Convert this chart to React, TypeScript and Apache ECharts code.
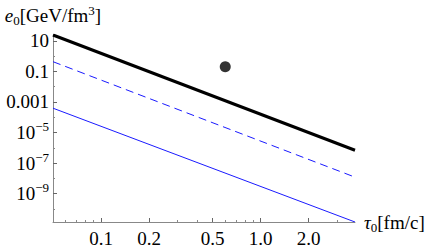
import React, { useEffect, useRef } from "react";
import * as echarts from "echarts";

// ---- data ----
const tauRange = [0.05, 3.9]; // fm/c, plot range
const eRange = [1.4e-11, 24]; // GeV/fm^3, plot range

const tauMajorTicks = [0.1, 0.2, 0.5, 1.0, 2.0];
const tauMajorLabels = ["0.1", "0.2", "0.5", "1.0", "2.0"];
const tauMinorTicks = [0.06, 0.07, 0.08, 0.09, 0.3, 0.4, 0.6, 0.7, 0.8, 0.9, 3.0];

const eMajorTicks = [10, 0.1, 0.001, 1e-5, 1e-7, 1e-9];
const eMajorLabels = ["10", "0.1", "0.001", "10^-5", "10^-7", "10^-9"];
const eMinorTicks = [1, 0.01, 1e-4, 1e-6, 1e-8, 1e-10];

const lineTau = [0.05, 3.9];
const blackE = [24, 6.9e-7];
const dashedE = [0.43, 1.2e-8];
const solidE = [3.9e-4, 1.4e-11];

const dotTau = [0.6];
const dotE = [0.2];

const FONT = "'Liberation Serif', 'Times New Roman', serif";
const FS = 19;
const FS_SMALL = 13;
const lg = (v: number) => Math.log10(v);

function pairs(xs: number[], ys: number[]) {
  return xs.map((x, i) => [lg(x), lg(ys[i])]);
}

export default function App() {
  const ref = useRef<HTMLDivElement>(null);
  useEffect(() => {
    if (!ref.current) return;
    const chart = echarts.init(ref.current, null, { renderer: "svg" });
    const xMin = lg(tauRange[0]);
    const xMax = lg(tauRange[1]);
    const yMin = lg(eRange[0]);
    const yMax = lg(eRange[1]);
    const axisLine = { show: true, onZero: false, lineStyle: { color: "#888", width: 1 } };
    const hiddenLine = { show: false, onZero: false };
    const xLabel = (v: number) => {
      const i = tauMajorTicks.findIndex((t) => Math.abs(lg(t) - v) < 1e-6);
      return i >= 0 ? tauMajorLabels[i] : "";
    };
    const yLabel = (v: number) => {
      const i = eMajorTicks.findIndex((t) => Math.abs(lg(t) - v) < 1e-6);
      if (i < 0) return "";
      const s = eMajorLabels[i];
      if (s.startsWith("10^")) return "{b|10}{s|" + s.slice(3).replace("-", "\u2212") + "}";
      return "{b|" + s + "}";
    };
    const titleRich = {
      i: { fontFamily: FONT, fontSize: FS, fontStyle: "italic", color: "#000", lineHeight: 23 },
      sub: { fontFamily: FONT, fontSize: FS_SMALL, color: "#000", verticalAlign: "bottom", lineHeight: 15 },
      sup: { fontFamily: FONT, fontSize: FS_SMALL, color: "#000", verticalAlign: "top", lineHeight: 12 },
      b: { fontFamily: FONT, fontSize: FS, color: "#000", lineHeight: 23 },
    };
    chart.setOption({
      animation: false,
      grid: { left: 53, right: 81, top: 35, bottom: 28, containLabel: false },
      xAxis: [
        {
          type: "value",
          min: xMin,
          max: xMax,
          name: "{i|\u03c4}{sub|0}{b|[fm/c]}",
          nameLocation: "end",
          nameGap: 9,
          nameTextStyle: { rich: titleRich },
          axisLine,
          splitLine: { show: false },
          axisTick: { show: true, inside: true, length: 4, customValues: tauMajorTicks.map(lg), lineStyle: { color: "#666" } },
          axisLabel: {
            show: true,
            customValues: tauMajorTicks.map(lg),
            formatter: xLabel,
            fontFamily: FONT,
            fontSize: FS,
            color: "#000",
            margin: 7,
          },
        },
        {
          type: "value",
          min: xMin,
          max: xMax,
          position: "bottom",
          axisLine: hiddenLine,
          splitLine: { show: false },
          axisLabel: { show: false },
          axisTick: { show: true, inside: true, length: 2, customValues: tauMinorTicks.map(lg), lineStyle: { color: "#888" } },
        },
      ],
      yAxis: [
        {
          type: "value",
          min: yMin,
          max: yMax,
          name: "{i|e}{sub|0}{b|[GeV/fm}{sup|3}{b|]}",
          nameLocation: "end",
          nameGap: 8,
          nameTextStyle: { rich: titleRich },
          axisLine,
          splitLine: { show: false },
          axisTick: { show: true, inside: true, length: 4, customValues: eMajorTicks.map(lg), lineStyle: { color: "#666" } },
          axisLabel: {
            show: true,
            customValues: eMajorTicks.map(lg),
            formatter: yLabel,
            margin: 4,
            rich: {
              b: { fontFamily: FONT, fontSize: FS, color: "#000", lineHeight: 25 },
              s: { fontFamily: FONT, fontSize: FS_SMALL, color: "#000", verticalAlign: "top", lineHeight: 10 },
            },
          },
        },
        {
          type: "value",
          min: yMin,
          max: yMax,
          position: "left",
          axisLine: hiddenLine,
          splitLine: { show: false },
          axisLabel: { show: false },
          axisTick: { show: true, inside: true, length: 2, customValues: eMinorTicks.map(lg), lineStyle: { color: "#888" } },
        },
      ],
      series: [
        {
          type: "line",
          data: pairs(lineTau, blackE),
          symbol: "none",
          clip: true,
          lineStyle: { color: "#000", width: 3 },
          z: 3,
        },
        {
          type: "line",
          data: pairs(lineTau, dashedE),
          symbol: "none",
          clip: true,
          lineStyle: { color: "#1a1aff", width: 1, type: [8, 5] },
        },
        {
          type: "line",
          data: pairs(lineTau, solidE),
          symbol: "none",
          clip: true,
          lineStyle: { color: "#1a1aff", width: 1 },
        },
        {
          type: "scatter",
          data: pairs(dotTau, dotE),
          symbol: "circle",
          symbolSize: 11,
          itemStyle: { color: "#000" },
        },
      ],
    });
    return () => chart.dispose();
  }, []);
  return <div ref={ref} style={{ width: 436, height: 250, position: "absolute", left: 0, top: 0 }} />;
}
